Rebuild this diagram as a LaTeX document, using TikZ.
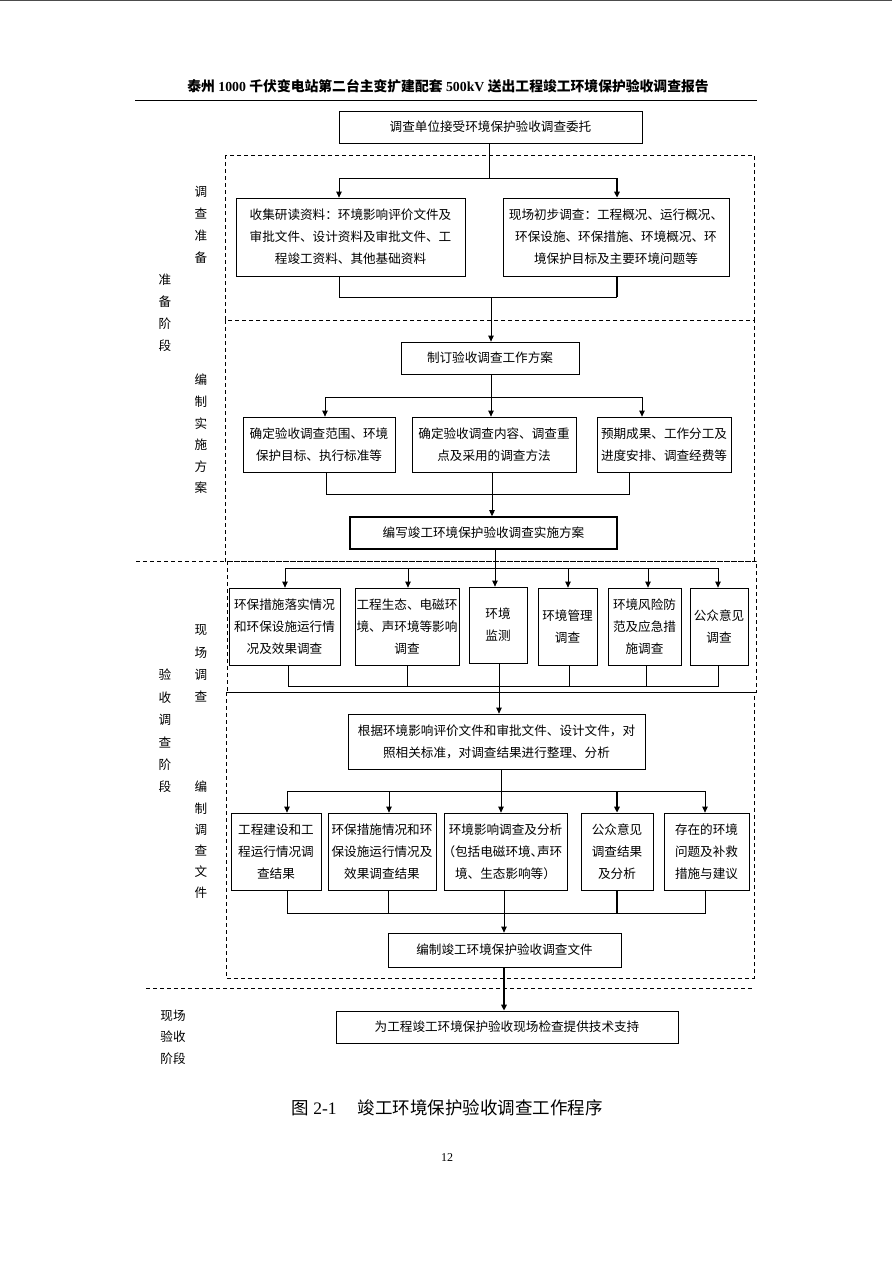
\documentclass[tikz,border=0pt]{standalone}
\usepackage{fontspec}
\setmainfont{Liberation Serif}
\newfontfamily\cjk{Noto Sans CJK SC}
\newfontfamily\cjkh[RawFeature=+halt]{Noto Sans CJK SC}
\usetikzlibrary{arrows.meta}
\begin{document}
\begin{tikzpicture}[x=1pt,y=-1pt,
  box/.style={draw, line width=0.8pt, align=center, inner sep=0pt, font=\cjk\fontsize{12.6}{22}\selectfont},
  lab/.style={align=center, inner sep=0pt, font=\cjk\fontsize{12.6}{22}\selectfont},
  ln/.style={line width=0.8pt},
  arr/.style={ln, -{Triangle[length=6pt,width=5.5pt]}},
  dsh/.style={line width=0.8pt, dash pattern=on 4pt off 3pt}]
\useasboundingbox (0,0) rectangle (892,1262);
% page edge and header
\draw[line width=1.2pt, black!70] (0,0.6) -- (892,0.6);
\node[inner sep=0pt, font=\fontsize{13.8}{16}\selectfont\bfseries] (hdr) at (448,86)
  {{\cjk 泰州} 1000 {\cjk 千伏变电站第二台主变扩建配套} 500kV {\cjk 送出工程竣工环境保护验收调查报告}};
\draw[line width=0.8pt] (135,100) -- (757,100);

% dashed frames
\draw[dsh] (225,155) rectangle (754,320);
\draw[dsh] (225,320) rectangle (754,561);
\draw[dsh] (227,561) rectangle (756,692);
\draw[dsh] (226,692) rectangle (754,978);
\draw[dsh] (136,561) -- (754,561);
\draw[dsh] (146,988) -- (754,988);

% stage labels
\node[lab] (s1) at (201,225) {调\\查\\准\\备};
\node[lab] (s2) at (165,313) {准\\备\\阶\\段};
\node[lab, font=\cjk\fontsize{12.6}{21.6}\selectfont] (s3) at (201,434) {编\\制\\实\\施\\方\\案};
\node[lab, font=\cjk\fontsize{12.6}{22.3}\selectfont] (s4) at (201,663.5) {现\\场\\调\\查};
\node[lab, font=\cjk\fontsize{12.6}{22.4}\selectfont] (s5) at (165,731) {验\\收\\调\\查\\阶\\段};
\node[lab, font=\cjk\fontsize{12.6}{21.2}\selectfont] (s6) at (201,840) {编\\制\\调\\查\\文\\件};
\node[lab, font=\cjk\fontsize{12.6}{21.5}\selectfont] (s7) at (173,1037) {现场\\验收\\阶段};

% boxes
\node[box, minimum width=303pt, minimum height=32pt] (b1) at (490.5,127) {调查单位接受环境保护验收调查委托};
\node[box, minimum width=229pt, minimum height=78pt] (L1) at (350.5,237) {收集研读资料：环境影响评价文件及\\审批文件、设计资料及审批文件、工\\程竣工资料、其他基础资料};
\node[box, minimum width=226pt, minimum height=78pt] (R1) at (616,237) {现场初步调查：工程概况、运行概况、\\环保设施、环保措施、环境概况、环\\境保护目标及主要环境问题等};
\node[box, minimum width=178pt, minimum height=32pt] (b2) at (490,358) {制订验收调查工作方案};
\node[box, minimum width=152pt, minimum height=55pt] (B3a) at (319,444.5) {确定验收调查范围、环境\\保护目标、执行标准等};
\node[box, minimum width=164pt, minimum height=55pt] (B3b) at (494,444.5) {确定验收调查内容、调查重\\点及采用的调查方法};
\node[box, minimum width=134pt, minimum height=55pt] (B3c) at (664,444.5) {预期成果、工作分工及\\进度安排、调查经费等};
\node[box, line width=1.6pt, minimum width=267pt, minimum height=32pt] (b4) at (483.5,533) {编写竣工环境保护验收调查实施方案};

\node[box, minimum width=111pt, minimum height=77pt] (C1) at (284.5,626.5) {环保措施落实情况\\和环保设施运行情\\况及效果调查};
\node[box, minimum width=104pt, minimum height=77pt] (C2) at (407,626.5) {工程生态、电磁环\\境、声环境等影响\\调查};
\node[box, minimum width=58pt, minimum height=76pt] (C3) at (498,625) {环境\\监测};
\node[box, minimum width=59pt, minimum height=77pt] (C4) at (567.5,626.5) {环境管理\\调查};
\node[box, minimum width=73pt, minimum height=77pt] (C5) at (644.5,626.5) {环境风险防\\范及应急措\\施调查};
\node[box, minimum width=58pt, minimum height=77pt] (C6) at (719,626.5) {公众意见\\调查};

\node[box, minimum width=297pt, minimum height=55pt] (b5) at (496.5,741.5) {根据环境影响评价文件和审批文件、设计文件，对\\照相关标准，对调查结果进行整理、分析};

\node[box, minimum width=90pt, minimum height=77pt] (D1) at (276,851.5) {工程建设和工\\程运行情况调\\查结果};
\node[box, minimum width=108pt, minimum height=77pt] (D2) at (382,851.5) {环保措施情况和环\\保设施运行情况及\\效果调查结果};
\node[box, minimum width=123pt, minimum height=77pt] (D3) at (505.5,851.5) {环境影响调查及分析\\{\cjkh （包括电磁环境、声环}\\境、生态影响等）};
\node[box, minimum width=72pt, minimum height=77pt] (D4) at (617,851.5) {公众意见\\调查结果\\及分析};
\node[box, minimum width=85pt, minimum height=77pt] (D5) at (706.5,851.5) {存在的环境\\问题及补救\\措施与建议};

\node[box, minimum width=233pt, minimum height=34pt] (b6) at (504.5,950) {编制竣工环境保护验收调查文件};
\node[box, minimum width=342pt, minimum height=32pt] (b7) at (507,1027) {为工程竣工环境保护验收现场检查提供技术支持};

% connectors: box1 -> L1, R1
\coordinate (t1) at (489,178); \coordinate (t1l) at (339,178); \coordinate (t1r) at (617,178);
\draw[ln] (b1.south -| t1) -- (t1);
\draw[ln] (t1l) -- (t1r);
\draw[arr] (t1l) -- (t1l |- L1.north);
\draw[arr, line width=1.4pt] (t1r) -- (t1r |- R1.north);
% L1, R1 -> box2
\coordinate (u1l) at (339,297); \coordinate (u1r) at (617,297); \coordinate (u1) at (491,297);
\draw[ln] (L1.south -| u1l) -- (u1l) -- (u1r);
\draw[line width=1.4pt] (R1.south -| u1r) -- (u1r);
\draw[arr] (u1) -- (u1 |- b2.north);
% box2 -> B3
\coordinate (t2) at (491,397); \coordinate (t2l) at (325,397); \coordinate (t2r) at (642,397);
\draw[ln] (b2.south -| t2) -- (t2);
\draw[ln] (t2l) -- (t2r);
\draw[arr] (t2l) -- (t2l |- B3a.north);
\draw[arr] (t2) -- (t2 |- B3b.north);
\draw[arr] (t2r) -- (t2r |- B3c.north);
% B3 -> box4
\coordinate (u2l) at (326,494); \coordinate (u2) at (492,494); \coordinate (u2r) at (629,494);
\draw[ln] (B3a.south -| u2l) -- (u2l) -- (u2r) -- (B3c.south -| u2r);
\draw[ln] (B3b.south -| u2) -- (u2);
\draw[arr] (u2) -- (u2 |- b4.north);
% box4 -> C row
\coordinate (t3) at (495,568); \coordinate (t3a) at (285,568); \coordinate (t3b) at (408,568);
\coordinate (t3d) at (568,568); \coordinate (t3e) at (648,568); \coordinate (t3f) at (718,568);
\draw[arr] (b4.south -| t3) -- (t3 |- C3.north);
\draw[ln] (t3a) -- (t3f);
\draw[arr] (t3a) -- (t3a |- C1.north);
\draw[arr] (t3b) -- (t3b |- C2.north);
\draw[arr] (t3d) -- (t3d |- C4.north);
\draw[arr] (t3e) -- (t3e |- C5.north);
\draw[arr] (t3f) -- (t3f |- C6.north);
% C row -> box5
\coordinate (u3a) at (288,686); \coordinate (u3b) at (407,686); \coordinate (u3) at (499,686);
\coordinate (u3d) at (569,686); \coordinate (u3e) at (646,686); \coordinate (u3f) at (718,686);
\draw[ln] (C1.south -| u3a) -- (u3a) -- (u3f) -- (C6.south -| u3f);
\draw[ln] (C2.south -| u3b) -- (u3b);
\draw[ln] (C4.south -| u3d) -- (u3d);
\draw[ln] (C5.south -| u3e) -- (u3e);
\draw[arr] (C3.south -| u3) -- (u3 |- b5.north);
% box5 -> D row
\coordinate (t4) at (501,791); \coordinate (t4a) at (287,791); \coordinate (t4b) at (389,791);
\coordinate (t4d) at (617,791); \coordinate (t4e) at (705,791);
\draw[ln] (b5.south -| t4) -- (t4);
\draw[ln] (t4a) -- (t4e);
\draw[arr] (t4a) -- (t4a |- D1.north);
\draw[arr] (t4b) -- (t4b |- D2.north);
\draw[arr] (t4) -- (t4 |- D3.north);
\draw[arr, line width=1.4pt] (t4d) -- (t4d |- D4.north);
\draw[arr] (t4e) -- (t4e |- D5.north);
% D row -> box6
\coordinate (u4a) at (287,913); \coordinate (u4b) at (388,913); \coordinate (u4) at (504,913);
\coordinate (u4d) at (617,913); \coordinate (u4e) at (705,913);
\draw[ln] (D1.south -| u4a) -- (u4a) -- (u4e) -- (D5.south -| u4e);
\draw[ln] (D2.south -| u4b) -- (u4b);
\draw[ln] (D3.south -| u4) -- (u4);
\draw[line width=1.4pt] (D4.south -| u4d) -- (u4d);
\draw[arr] (u4) -- (u4 |- b6.north);
% box6 -> box7
\coordinate (v5) at (504,967);
\draw[arr, line width=1.6pt] (b6.south -| v5) -- (v5 |- b7.north);

% caption and page number
\node[inner sep=0pt, font=\fontsize{17.5}{20}\selectfont] (cap) at (447,1108)
  {{\cjk 图} 2-1\hspace{1.2em}{\cjk 竣工环境保护验收调查工作程序}};
\node[inner sep=0pt, font=\fontsize{12}{14}\selectfont] (pg) at (447,1158) {12};
\end{tikzpicture}
\end{document}
